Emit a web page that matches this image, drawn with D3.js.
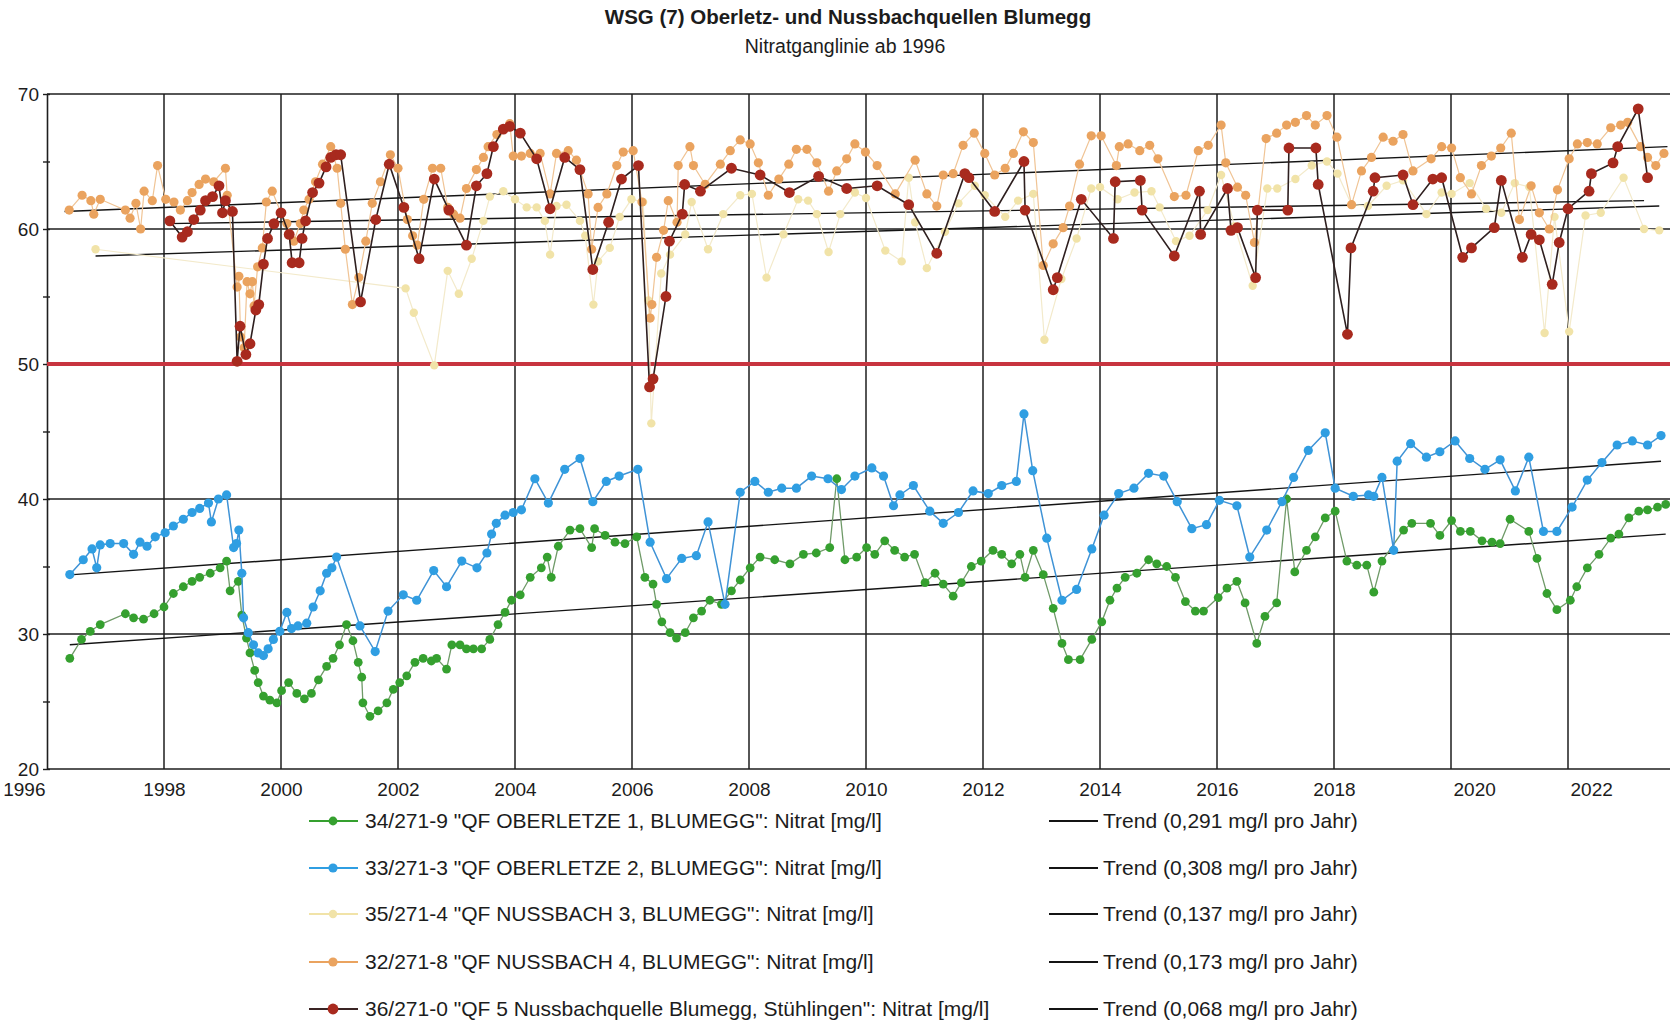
<!DOCTYPE html>
<html>
<head>
<meta charset="utf-8">
<script src="https://cdnjs.cloudflare.com/ajax/libs/d3/7.8.5/d3.min.js"></script>
<style>
  body { margin: 0; background: #fff; }
  text { font-family: "Liberation Sans", Arial, sans-serif; fill: #1c1c1c; }
</style>
</head>
<body>
<div id="chart"></div>
<script>
// --- data: [decimal year, Nitrat mg/l] ---
var oberletze1 = [
  [1996.39,28.2],[1996.59,29.6],[1996.74,30.2],[1996.91,30.7],[1997.34,31.5],[1997.48,31.2],[1997.65,31.1],
  [1997.83,31.5],[1998.00,32.0],[1998.16,33.0],[1998.33,33.5],[1998.48,33.9],[1998.61,34.2],[1998.79,34.5],
  [1998.96,34.9],[1999.07,35.4],[1999.13,33.2],[1999.27,33.9],[1999.33,31.4],[1999.41,29.7],[1999.47,28.6],
  [1999.55,27.3],[1999.61,26.4],[1999.70,25.4],[1999.81,25.1],[1999.93,24.9],[2000.01,25.8],[2000.13,26.4],
  [2000.27,25.6],[2000.40,25.2],[2000.52,25.6],[2000.64,26.6],[2000.78,27.6],[2000.89,28.2],[2001.00,29.2],
  [2001.12,30.7],[2001.23,29.5],[2001.32,27.9],[2001.38,26.8],[2001.40,24.9],[2001.52,23.9],[2001.66,24.3],
  [2001.81,24.9],[2001.92,25.9],[2002.03,26.4],[2002.15,26.9],[2002.29,27.9],[2002.43,28.2],[2002.57,28.0],
  [2002.66,28.2],[2002.83,27.4],[2002.92,29.2],[2003.06,29.2],[2003.17,28.9],[2003.29,28.9],[2003.43,28.9],
  [2003.57,29.6],[2003.71,30.7],[2003.83,31.6],[2003.94,32.5],[2004.09,32.9],[2004.26,34.2],[2004.45,34.9],
  [2004.55,35.7],[2004.62,34.2],[2004.74,36.5],[2004.94,37.7],[2005.11,37.8],[2005.31,36.4],[2005.36,37.8],
  [2005.54,37.3],[2005.71,36.8],[2005.88,36.7],[2006.08,37.2],[2006.22,34.2],[2006.36,33.7],[2006.42,32.2],
  [2006.51,30.9],[2006.65,30.1],[2006.76,29.7],[2006.91,30.1],[2007.05,31.2],[2007.19,31.7],[2007.33,32.5],
  [2007.53,32.2],[2007.70,33.2],[2007.85,34.0],[2008.02,34.9],[2008.19,35.7],[2008.44,35.5],[2008.70,35.2],
  [2008.93,35.9],[2009.15,36.0],[2009.38,36.4],[2009.50,41.5],[2009.64,35.5],[2009.84,35.7],[2010.01,36.4],
  [2010.15,35.9],[2010.32,36.9],[2010.49,36.2],[2010.66,35.7],[2010.83,35.9],[2011.01,33.8],[2011.18,34.5],
  [2011.32,33.7],[2011.49,32.8],[2011.63,33.8],[2011.80,35.0],[2011.97,35.4],[2012.17,36.2],[2012.32,35.9],
  [2012.49,35.2],[2012.63,35.9],[2012.72,34.2],[2012.86,36.2],[2013.03,34.4],[2013.20,31.9],[2013.35,29.3],
  [2013.46,28.1],[2013.66,28.1],[2013.86,29.6],[2014.03,30.9],[2014.17,32.5],[2014.29,33.4],[2014.43,34.2],
  [2014.63,34.5],[2014.83,35.5],[2014.97,35.2],[2015.14,35.0],[2015.29,34.2],[2015.46,32.4],[2015.63,31.7],
  [2015.77,31.7],[2016.02,32.7],[2016.17,33.4],[2016.34,33.9],[2016.48,32.3],[2016.68,29.3],[2016.82,31.3],
  [2017.02,32.3],[2017.19,40.0],[2017.33,34.6],[2017.53,36.2],[2017.68,37.2],[2017.85,38.6],[2018.02,39.1],
  [2018.22,35.4],[2018.39,35.1],[2018.56,35.1],[2018.68,33.1],[2018.82,35.4],[2019.19,37.7],[2019.33,38.2],
  [2019.65,38.2],[2019.81,37.3],[2020.01,38.4],[2020.16,37.6],[2020.33,37.6],[2020.53,36.9],[2020.70,36.8],
  [2020.84,36.7],[2021.01,38.5],[2021.33,37.6],[2021.47,35.6],[2021.64,33.0],[2021.81,31.8],[2022.04,32.5],
  [2022.15,33.5],[2022.33,34.9],[2022.53,35.9],[2022.73,37.1],[2022.87,37.4],[2023.04,38.6],[2023.21,39.1],
  [2023.36,39.2],[2023.53,39.4],[2023.67,39.6]
];

var oberletze2 = [
  [1996.39,34.4],[1996.62,35.5],[1996.77,36.3],[1996.85,34.9],[1996.91,36.6],[1997.08,36.7],[1997.31,36.7],
  [1997.48,35.9],[1997.59,36.8],[1997.71,36.5],[1997.85,37.2],[1998.02,37.5],[1998.16,38.0],[1998.33,38.5],
  [1998.48,39.0],[1998.61,39.3],[1998.76,39.7],[1998.81,38.3],[1998.93,40.0],[1999.07,40.3],[1999.19,36.4],
  [1999.24,36.7],[1999.28,37.7],[1999.33,34.5],[1999.36,31.2],[1999.44,30.1],[1999.53,29.2],[1999.61,28.6],
  [1999.70,28.4],[1999.78,28.9],[1999.87,29.6],[1999.98,30.2],[2000.10,31.6],[2000.18,30.4],[2000.29,30.6],
  [2000.44,30.8],[2000.55,32.0],[2000.67,33.2],[2000.78,34.5],[2000.87,34.9],[2000.95,35.7],[2001.35,30.6],
  [2001.61,28.7],[2001.83,31.7],[2002.09,32.9],[2002.32,32.5],[2002.61,34.7],[2002.83,33.5],[2003.09,35.4],
  [2003.35,34.9],[2003.52,36.0],[2003.60,37.4],[2003.68,38.2],[2003.83,38.8],[2003.97,39.0],[2004.11,39.2],
  [2004.34,41.5],[2004.57,39.7],[2004.85,42.2],[2005.11,43.0],[2005.33,39.8],[2005.56,41.3],[2005.78,41.7],
  [2006.10,42.2],[2006.31,36.8],[2006.59,34.1],[2006.85,35.6],[2007.10,35.8],[2007.30,38.3],[2007.59,32.2],
  [2007.85,40.5],[2008.10,41.3],[2008.33,40.5],[2008.56,40.8],[2008.81,40.8],[2009.07,41.7],[2009.35,41.5],
  [2009.58,40.7],[2009.81,41.7],[2010.10,42.3],[2010.30,41.7],[2010.47,39.5],[2010.58,40.3],[2010.81,41.0],
  [2011.09,39.1],[2011.32,38.2],[2011.58,39.0],[2011.83,40.6],[2012.09,40.4],[2012.32,41.0],[2012.57,41.3],
  [2012.70,46.3],[2012.85,42.1],[2013.09,37.1],[2013.35,32.5],[2013.60,33.3],[2013.86,36.3],[2014.07,38.8],
  [2014.32,40.4],[2014.58,40.8],[2014.83,41.9],[2015.09,41.7],[2015.32,39.8],[2015.57,37.8],[2015.82,38.1],
  [2016.04,39.9],[2016.34,39.5],[2016.56,35.7],[2016.85,37.7],[2017.11,39.8],[2017.31,41.6],[2017.56,43.6],
  [2017.85,44.9],[2018.02,40.8],[2018.33,40.2],[2018.59,40.3],[2018.68,40.2],[2018.82,41.6],[2019.02,36.2],
  [2019.08,42.8],[2019.31,44.1],[2019.58,43.1],[2019.81,43.5],[2020.07,44.3],[2020.32,43.0],[2020.58,42.2],
  [2020.84,42.9],[2021.10,40.6],[2021.33,43.1],[2021.58,37.6],[2021.81,37.6],[2022.07,39.4],[2022.33,41.4],
  [2022.58,42.7],[2022.84,44.0],[2023.10,44.3],[2023.36,44.0],[2023.59,44.7]
];

var nussbach3 = [
  [1996.83,58.5],[2002.13,55.6],[2002.27,53.8],[2002.62,49.9],[2002.85,56.9],[2003.04,55.2],[2003.26,57.8],
  [2003.46,60.6],[2003.57,62.4],[2003.80,62.8],[2004.00,62.2],[2004.20,61.6],[2004.37,61.6],[2004.51,60.6],
  [2004.60,58.1],[2004.71,61.7],[2004.88,61.8],[2005.11,60.6],[2005.20,59.5],[2005.34,54.4],[2005.42,57.6],
  [2005.62,58.6],[2005.79,60.9],[2005.99,62.2],[2006.19,62.0],[2006.28,54.7],[2006.33,45.6],[2006.50,56.7],
  [2006.65,58.1],[2006.91,59.6],[2007.02,62.0],[2007.30,58.5],[2007.56,61.1],[2007.85,62.5],[2008.05,62.6],
  [2008.30,56.4],[2008.59,59.6],[2008.84,62.2],[2009.01,62.1],[2009.16,61.1],[2009.36,58.3],[2009.56,61.1],
  [2009.81,62.7],[2010.00,62.3],[2010.33,58.4],[2010.61,57.6],[2010.73,63.8],[2010.84,60.5],[2011.04,57.1],
  [2011.35,59.8],[2011.58,61.9],[2011.86,63.2],[2012.03,62.5],[2012.38,60.9],[2012.60,62.1],[2012.86,62.6],
  [2013.05,51.8],[2013.34,56.3],[2013.60,59.3],[2013.85,63.0],[2014.00,63.1],[2014.30,62.2],[2014.59,62.7],
  [2014.88,62.8],[2015.02,61.6],[2015.30,59.1],[2015.53,59.5],[2015.84,61.4],[2016.07,64.0],[2016.30,60.2],
  [2016.61,55.8],[2016.86,63.0],[2017.03,63.0],[2017.34,63.7],[2017.62,64.7],[2017.88,65.0],[2018.06,64.1],
  [2018.30,61.8],[2018.58,61.7],[2018.90,63.2],[2019.18,63.6],[2019.58,61.1],[2019.84,62.7],[2020.01,62.6],
  [2020.32,63.4],[2020.60,61.5],[2020.86,61.2],[2021.09,63.4],[2021.34,63.1],[2021.60,52.3],[2021.77,60.9],
  [2022.02,52.4],[2022.30,61.0],[2022.56,61.2],[2022.95,63.8],[2023.30,60.0],[2023.56,59.9]
];

var nussbach4 = [
  [1996.38,61.4],[1996.60,62.5],[1996.75,62.1],[1996.80,61.1],[1996.91,62.2],[1997.34,61.4],[1997.42,60.8],
  [1997.52,61.9],[1997.60,60.0],[1997.66,62.8],[1997.80,62.1],[1997.89,64.7],[1998.03,62.2],[1998.17,62.0],
  [1998.28,61.4],[1998.40,62.1],[1998.48,62.7],[1998.60,63.3],[1998.71,63.7],[1998.85,63.5],[1999.05,64.5],
  [1999.08,62.5],[1999.25,55.7],[1999.28,56.5],[1999.31,52.0],[1999.37,51.2],[1999.42,56.1],[1999.47,55.2],
  [1999.51,56.1],[1999.54,54.3],[1999.60,57.2],[1999.68,58.6],[1999.75,62.0],[1999.85,62.8],[2000.00,61.2],
  [2000.10,60.4],[2000.22,59.1],[2000.33,60.4],[2000.39,61.4],[2000.48,62.2],[2000.59,63.5],[2000.71,64.8],
  [2000.85,66.1],[2000.96,64.5],[2001.02,61.9],[2001.10,58.5],[2001.22,54.4],[2001.33,56.4],[2001.45,59.1],
  [2001.56,61.9],[2001.70,63.5],[2001.87,65.5],[2002.00,64.5],[2002.16,60.7],[2002.25,59.5],[2002.33,58.8],
  [2002.44,62.2],[2002.59,64.5],[2002.73,64.5],[2002.85,61.6],[2002.95,61.1],[2003.06,60.8],[2003.17,63.0],
  [2003.34,64.4],[2003.46,65.3],[2003.54,66.1],[2003.69,67.0],[2003.91,67.8],[2003.97,65.4],[2004.11,65.4],
  [2004.26,65.6],[2004.43,65.6],[2004.60,62.6],[2004.71,65.6],[2004.91,65.8],[2005.05,65.1],[2005.25,62.6],
  [2005.31,58.5],[2005.42,61.6],[2005.57,62.6],[2005.74,64.7],[2005.85,65.7],[2006.02,65.8],[2006.17,62.0],
  [2006.31,53.4],[2006.34,54.4],[2006.42,57.9],[2006.54,59.9],[2006.62,62.1],[2006.77,60.5],[2006.79,64.7],
  [2006.99,66.1],[2007.05,64.7],[2007.25,63.3],[2007.51,64.8],[2007.68,65.8],[2007.85,66.6],[2008.02,66.3],
  [2008.16,64.9],[2008.33,62.5],[2008.51,63.7],[2008.68,64.8],[2008.81,65.9],[2008.99,65.9],[2009.16,64.9],
  [2009.36,62.8],[2009.50,64.3],[2009.67,65.2],[2009.81,66.3],[2009.99,65.7],[2010.19,64.7],[2010.50,62.6],
  [2010.84,65.1],[2011.04,62.6],[2011.21,61.7],[2011.32,64.0],[2011.49,64.1],[2011.66,66.2],[2011.85,67.1],
  [2012.03,65.6],[2012.20,64.0],[2012.38,64.5],[2012.52,65.6],[2012.69,67.2],[2012.86,66.4],[2013.03,57.3],
  [2013.20,58.9],[2013.37,60.1],[2013.48,61.7],[2013.65,64.8],[2013.85,66.9],[2014.02,66.9],[2014.28,64.7],
  [2014.33,66.1],[2014.48,66.3],[2014.68,65.8],[2014.85,66.2],[2014.99,65.2],[2015.27,62.4],[2015.47,62.5],
  [2015.68,65.8],[2015.85,66.2],[2016.07,67.7],[2016.15,64.9],[2016.35,63.1],[2016.49,62.5],[2016.64,59.0],
  [2016.84,66.7],[2017.02,67.1],[2017.19,67.7],[2017.34,67.9],[2017.53,68.4],[2017.68,67.7],[2017.88,68.4],
  [2018.05,66.8],[2018.30,61.8],[2018.47,64.3],[2018.64,65.3],[2018.84,66.8],[2019.01,66.5],[2019.18,67.0],
  [2019.35,64.3],[2019.66,65.2],[2019.84,66.1],[2020.01,66.0],[2020.16,63.8],[2020.35,62.6],[2020.52,64.7],
  [2020.69,65.4],[2020.85,66.0],[2021.03,67.1],[2021.17,60.7],[2021.37,63.2],[2021.51,61.2],[2021.68,60.0],
  [2021.82,62.9],[2022.02,65.2],[2022.16,66.3],[2022.33,66.4],[2022.50,66.3],[2022.73,67.5],[2022.90,67.7],
  [2023.02,67.9],[2023.24,66.1],[2023.36,65.3],[2023.50,64.7],[2023.64,65.6]
];

var nussbachquelle5 = [
  [1998.10,60.6],[1998.31,59.4],[1998.40,59.8],[1998.51,60.7],[1998.62,61.4],[1998.71,62.1],[1998.83,62.4],
  [1998.94,63.2],[1999.00,61.2],[1999.05,62.1],[1999.17,61.3],[1999.25,50.2],[1999.30,52.8],[1999.40,50.7],
  [1999.47,51.5],[1999.57,54.0],[1999.62,54.4],[1999.70,57.4],[1999.77,59.3],[1999.88,60.4],[2000.00,61.2],
  [2000.14,59.6],[2000.19,57.5],[2000.31,57.5],[2000.36,59.3],[2000.42,60.6],[2000.54,62.7],[2000.65,63.4],
  [2000.77,64.6],[2000.85,65.3],[2000.94,65.5],[2001.02,65.5],[2001.36,54.6],[2001.62,60.7],[2001.85,64.8],
  [2002.10,61.6],[2002.36,57.8],[2002.62,63.7],[2002.87,61.4],[2003.17,58.8],[2003.34,63.2],[2003.52,64.1],
  [2003.63,66.1],[2003.80,67.4],[2003.91,67.6],[2004.09,67.1],[2004.37,65.2],[2004.60,61.5],[2004.85,65.3],
  [2005.11,64.4],[2005.33,57.0],[2005.60,60.5],[2005.82,63.7],[2006.11,64.7],[2006.30,48.3],[2006.36,48.9],
  [2006.58,55.0],[2006.64,59.1],[2006.86,61.1],[2006.90,63.3],[2007.17,62.8],[2007.70,64.5],[2008.19,64.0],
  [2008.69,62.7],[2009.19,63.9],[2009.67,63.0],[2010.19,63.2],[2010.73,61.8],[2011.21,58.2],[2011.69,64.1],
  [2011.76,63.8],[2012.20,61.3],[2012.70,65.0],[2012.72,61.4],[2013.20,55.5],[2013.27,56.4],[2013.68,62.2],
  [2014.23,59.3],[2014.26,63.5],[2014.69,63.6],[2014.72,61.4],[2015.27,58.0],[2015.70,62.8],[2015.72,59.6],
  [2016.18,63.0],[2016.24,59.9],[2016.35,60.1],[2016.66,56.4],[2016.69,61.4],[2017.21,61.4],[2017.23,66.0],
  [2017.69,66.0],[2017.73,63.3],[2018.23,52.2],[2018.29,58.6],[2018.67,62.8],[2018.70,63.8],[2019.18,64.0],
  [2019.35,61.8],[2019.69,63.7],[2019.84,63.8],[2020.20,57.9],[2020.35,58.6],[2020.74,60.1],[2020.86,63.6],
  [2021.22,57.9],[2021.37,59.6],[2021.51,59.2],[2021.73,55.9],[2021.85,59.0],[2022.00,61.5],[2022.36,62.8],
  [2022.40,64.1],[2022.77,64.9],[2022.85,66.1],[2023.20,68.9],[2023.36,63.8]
];

// trend lines: start and end point
var trendStart = [[1996.39,29.2],[1996.45,34.4],[1996.83,58.0],[1996.30,61.3],[1998.05,60.4]];
var trendEnd   = [[2023.67,37.4],[2023.59,42.8],[2023.56,61.7],[2023.70,66.1],[2023.30,62.1]];

var seriesLabels = [
  '34/271-9 "QF OBERLETZE 1, BLUMEGG": Nitrat [mg/l]',
  '33/271-3 "QF OBERLETZE 2, BLUMEGG": Nitrat [mg/l]',
  '35/271-4 "QF NUSSBACH 3, BLUMEGG": Nitrat [mg/l]',
  '32/271-8 "QF NUSSBACH 4, BLUMEGG": Nitrat [mg/l]',
  '36/271-0 "QF 5 Nussbachquelle Blumegg, Stühlingen": Nitrat [mg/l]'
];
var trendLabels = [
  "Trend (0,291 mg/l pro Jahr)",
  "Trend (0,308 mg/l pro Jahr)",
  "Trend (0,137 mg/l pro Jahr)",
  "Trend (0,173 mg/l pro Jahr)",
  "Trend (0,068 mg/l pro Jahr)"
];

var xTickYears = [1996,1998,2000,2002,2004,2006,2008,2010,2012,2014,2016,2018,2020,2022];
var yTickValues = [20,25,30,35,40,45,50,55,60,65,70];
var limitValue = 50;

// --- styling ---
var allSeries = [oberletze1, oberletze2, nussbach3, nussbach4, nussbachquelle5];
var dotColor  = ["#35a02f", "#2f9ee2", "#f1e3a8", "#eaa35f", "#a82a1e"];
var lineColor = ["#6f9a68", "#3f93d6", "#f3eacb", "#f0c495", "#2e1f1f"];
var legendLine = ["#35a02f", "#2f9ee2", "#f1e3a8", "#eaa35f", "#3a2424"];
var lineWidth = [1.3, 1.5, 1.2, 1.2, 1.6];
var dotRadius = [4.4, 4.6, 4.2, 4.6, 5.4];

var width = 1670, height = 1021;
var plotLeft = 47, plotTop = 94, plotBottom = 769;

var svg = d3.select("#chart").append("svg")
    .attr("width", width)
    .attr("height", height);

var x = d3.scaleLinear().domain([1996, 2024]).range([plotLeft, plotLeft + 58.5 * 28]);
var y = d3.scaleLinear().domain([20, 70]).range([plotBottom, plotTop]);

// title
svg.append("text")
    .attr("x", 848).attr("y", 24)
    .attr("text-anchor", "middle")
    .style("font-size", "20.5px").style("font-weight", "bold")
    .text("WSG (7) Oberletz- und Nussbachquellen Blumegg");
svg.append("text")
    .attr("x", 845).attr("y", 53)
    .attr("text-anchor", "middle")
    .style("font-size", "19.5px")
    .text("Nitratganglinie ab 1996");

// grid
var grid = svg.append("g").attr("class", "grid")
    .attr("stroke", "#1e1e1e").attr("stroke-width", 1.5);

grid.selectAll(".hgrid")
    .data([30, 40, 50, 60, 70])
    .enter().append("line")
    .attr("x1", plotLeft).attr("x2", width)
    .attr("y1", function(d) { return y(d); })
    .attr("y2", function(d) { return y(d); });

grid.selectAll(".vgrid")
    .data(xTickYears.slice(1))
    .enter().append("line")
    .attr("x1", function(d) { return x(d); })
    .attr("x2", function(d) { return x(d); })
    .attr("y1", plotTop).attr("y2", plotBottom);

// x axis
var bottomAxis = d3.axisBottom(x).tickValues(xTickYears).tickSize(0).tickPadding(14)
    .tickFormat(d3.format("d"));
var xAxisG = svg.append("g")
    .attr("transform", "translate(0," + plotBottom + ")")
    .call(bottomAxis);
xAxisG.select(".domain").attr("d", "M" + plotLeft + ",0H" + width)
    .attr("stroke", "#1e1e1e").attr("stroke-width", 1.5);
xAxisG.selectAll("text")
    .style("font-size", "19px").attr("fill", "#1c1c1c")
    .attr("text-anchor", function(d) { return d === 1996 ? "end" : (d >= 2020 ? "start" : "middle"); })
    .attr("dx", function(d) { return d === 1996 ? -2 : (d >= 2020 ? 2 : 0); });

// y axis
var leftAxis = d3.axisLeft(y).tickValues(yTickValues).tickSizeInner(4).tickSizeOuter(0).tickPadding(4)
    .tickFormat(function(d) { return d % 10 === 0 ? d : ""; });
var yAxisG = svg.append("g")
    .attr("transform", "translate(" + plotLeft + ",0)")
    .call(leftAxis);
yAxisG.select(".domain").attr("stroke", "#1e1e1e").attr("stroke-width", 1.6);
yAxisG.selectAll(".tick line").attr("x1", 3).attr("stroke", "#1e1e1e").attr("stroke-width", 1.4);
yAxisG.selectAll("text").style("font-size", "19px").attr("fill", "#1c1c1c");

// limit line 50 mg/l
svg.append("line")
    .attr("x1", plotLeft).attr("x2", width)
    .attr("y1", y(limitValue)).attr("y2", y(limitValue))
    .attr("stroke", "#c8343f").attr("stroke-width", 4);

// clip to plot area
svg.append("clipPath").attr("id", "plotclip")
  .append("rect").attr("x", plotLeft).attr("y", plotTop - 10)
    .attr("width", width - plotLeft).attr("height", plotBottom - plotTop + 10);

var plot = svg.append("g").attr("clip-path", "url(#plotclip)");

// trend lines
plot.selectAll(".trend")
    .data(d3.range(trendStart.length))
    .enter().append("line")
    .attr("class", "trend")
    .attr("x1", function(i) { return x(trendStart[i][0]); })
    .attr("y1", function(i) { return y(trendStart[i][1]); })
    .attr("x2", function(i) { return x(trendEnd[i][0]); })
    .attr("y2", function(i) { return y(trendEnd[i][1]); })
    .attr("stroke", "#141414").attr("stroke-width", 1.4);

var line = d3.line()
    .x(function(d) { return x(d[0]); })
    .y(function(d) { return y(d[1]); });

allSeries.forEach(function(data, i) {
    var g = plot.append("g");
    g.append("path")
        .datum(data)
        .attr("d", line)
        .attr("fill", "none")
        .attr("stroke", lineColor[i])
        .attr("stroke-width", lineWidth[i]);
    g.selectAll("circle")
        .data(data)
        .enter().append("circle")
        .attr("cx", function(d) { return x(d[0]); })
        .attr("cy", function(d) { return y(d[1]); })
        .attr("r", dotRadius[i])
        .attr("fill", dotColor[i]);
});

// legend
var legendRows = [821, 868, 914, 962, 1009];
var legend = svg.append("g").attr("class", "legend");

seriesLabels.forEach(function(label, i) {
    var row = legend.append("g").attr("transform", "translate(0," + legendRows[i] + ")");
    row.append("line").attr("x1", 309).attr("x2", 358).attr("y1", 0).attr("y2", 0)
        .attr("stroke", legendLine[i]).attr("stroke-width", 2);
    row.append("circle").attr("cx", 333).attr("cy", 0).attr("r", dotRadius[i]).attr("fill", dotColor[i]);
    row.append("text").attr("x", 365).attr("y", 7).style("font-size", "21px").text(label);

    row.append("line").attr("x1", 1049).attr("x2", 1098).attr("y1", 0).attr("y2", 0)
        .attr("stroke", "#141414").attr("stroke-width", 1.8);
    row.append("text").attr("x", 1103).attr("y", 7).style("font-size", "21px").text(trendLabels[i]);
});
</script>
</body>
</html>
